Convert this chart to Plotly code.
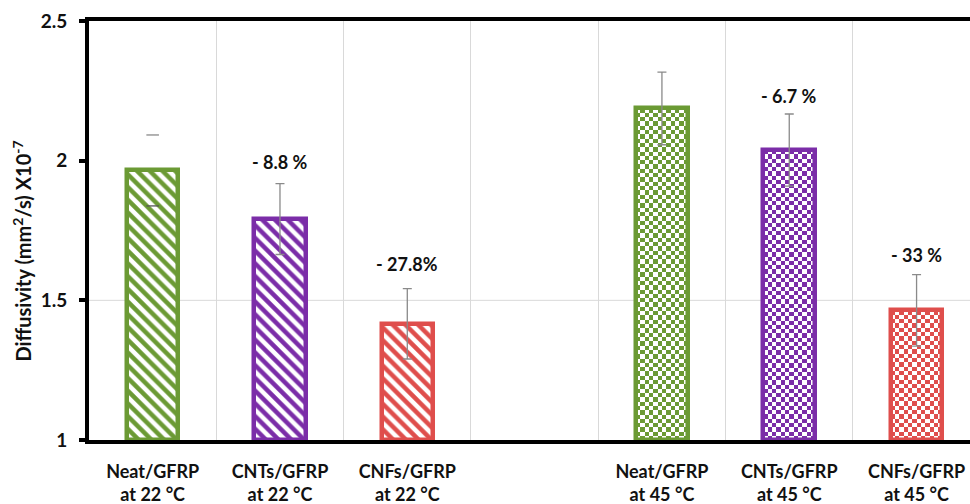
import numpy as np
import plotly.graph_objects as go

# ---- data ----
categories = ["Neat/GFRP<br>at 22 °C", "CNTs/GFRP<br>at 22 °C", "CNFs/GFRP<br>at 22 °C",
              "Neat/GFRP<br>at 45 °C", "CNTs/GFRP<br>at 45 °C", "CNFs/GFRP<br>at 45 °C"]
positions = [0, 1, 2, 4, 5, 6]          # slot 3 is left empty between the two temperatures
diffusivity = [1.965, 1.791, 1.416, 2.187, 2.038, 1.464]
error = [0.127, 0.127, 0.126, 0.130, 0.129, 0.128]
change_labels = ["- 8.8 %", "- 27.8%", "- 6.7 %", "- 33 %"]
labelled = [1, 2, 4, 5]                 # bars carrying a change label
y_ticks = [1, 1.5, 2, 2.5]

# ---- style ----
colors = ["#6B9A34", "#7B2DA8", "#DF4E4C"] * 2
FONT = "Lato"
TEXT = "#111111"
BAR_W = 0.405
EDGE = 4.5
PX_PER_X = 127.26
PX_PER_Y = 280.0
CELL_PX = 4.3

fig = go.Figure()

# checkerboard fill for the 45 °C bars (drawn first, outlines go on top)
for i in range(3, 6):
    cx, v, col = positions[i], diffusivity[i], colors[i]
    ncol = int(round(BAR_W * PX_PER_X / CELL_PX))
    nrow = int(round((v - 1) * PX_PER_Y / CELL_PX))
    dx = BAR_W / ncol
    dy = (v - 1) / nrow
    z = (np.add.outer(np.arange(nrow), np.arange(ncol)) % 2).astype(float)
    fig.add_trace(go.Heatmap(
        z=z, x0=cx - BAR_W / 2 + dx / 2, dx=dx, y0=1 + dy / 2, dy=dy,
        colorscale=[[0, "white"], [1, col]], zmin=0, zmax=1,
        showscale=False, hoverinfo="skip", zsmooth=False))

# 22 °C bars: diagonal hatching
fig.add_trace(go.Bar(
    x=positions[:3], y=[v - 1 for v in diffusivity[:3]], base=1, width=BAR_W,
    marker=dict(color="white", line=dict(color=colors[:3], width=EDGE),
                pattern=dict(shape="\\", fgcolor=colors[:3], bgcolor="white",
                             size=9, solidity=0.5, fillmode="replace")),
    showlegend=False, hoverinfo="skip"))

# 45 °C bars: outline only, checkerboard sits underneath
fig.add_trace(go.Bar(
    x=positions[3:], y=[v - 1 for v in diffusivity[3:]], base=1, width=BAR_W,
    marker=dict(color="rgba(0,0,0,0)", line=dict(color=colors[3:], width=EDGE)),
    showlegend=False, hoverinfo="skip"))

# error bars (whisker line hidden on the first bar, caps only)
fig.add_trace(go.Scatter(
    x=positions[1:], y=diffusivity[1:], mode="markers",
    marker=dict(size=1, color="rgba(0,0,0,0)"),
    error_y=dict(type="data", array=error[1:], color="#8A8A8A", thickness=1.3, width=4.5),
    showlegend=False, hoverinfo="skip"))
fig.add_trace(go.Scatter(
    x=[positions[0], positions[0]],
    y=[diffusivity[0] + error[0], diffusivity[0] - error[0]],
    mode="markers",
    marker=dict(symbol="line-ew", size=9, line=dict(color=["#8A8A8A", "#555555"], width=1.3)),
    showlegend=False, hoverinfo="skip"))

# percentage change labels
for k, i in enumerate(labelled):
    fig.add_annotation(
        x=positions[i], y=diffusivity[i] + error[i], yshift=[22, 25, 18, 20][k],
        text=change_labels[k], showarrow=False, yanchor="middle",
        font=dict(family=FONT, size=18, color=TEXT, weight="bold"))

# single horizontal guide at 1.5
fig.add_hline(y=1.5, line=dict(color="#D9D9D9", width=1), layer="below")

L, R, T, B = 89.4, 970, 20.5, 440.5
x_lo = -0.5
x_hi = x_lo + (R - L) / PX_PER_X

fig.update_layout(
    width=970, height=504,
    margin=dict(l=L, r=970 - R, t=T, b=504 - B, pad=0),
    paper_bgcolor="white", plot_bgcolor="white",
    bargap=0, showlegend=False,
    xaxis=dict(
        range=[x_lo, x_hi], tickmode="array", tickvals=positions, ticktext=categories,
        ticks="", showgrid=False, zeroline=False,
        showline=True, linecolor="black", linewidth=4, mirror=True,
        ticklabelstandoff=12,
        tickfont=dict(family=FONT, size=18, color=TEXT, weight="bold"),
        minor=dict(tick0=0.5, dtick=1, showgrid=True, gridcolor="#D9D9D9", gridwidth=1, ticks=""),
    ),
    yaxis=dict(
        range=[1, 2.5], tickmode="array", tickvals=y_ticks,
        ticktext=[f"{t:g}" for t in y_ticks],
        ticks="outside", ticklen=6, tickwidth=4, tickcolor="black",
        showgrid=False, zeroline=False,
        showline=True, linecolor="black", linewidth=4,
        ticklabelstandoff=8,
        tickfont=dict(family=FONT, size=19, color=TEXT, weight="bold"),
    ),
)

fig.add_annotation(
    xref="paper", yref="paper", x=(22 - L) / (R - L), y=(B - 251) / (B - T),
    text="Diffusivity (mm<sup>2</sup>/s) X10<sup>-7</sup>", textangle=-90,
    showarrow=False, xanchor="center", yanchor="middle",
    font=dict(family=FONT, size=20, color=TEXT, weight="bold"))

fig.write_html("out.html")
